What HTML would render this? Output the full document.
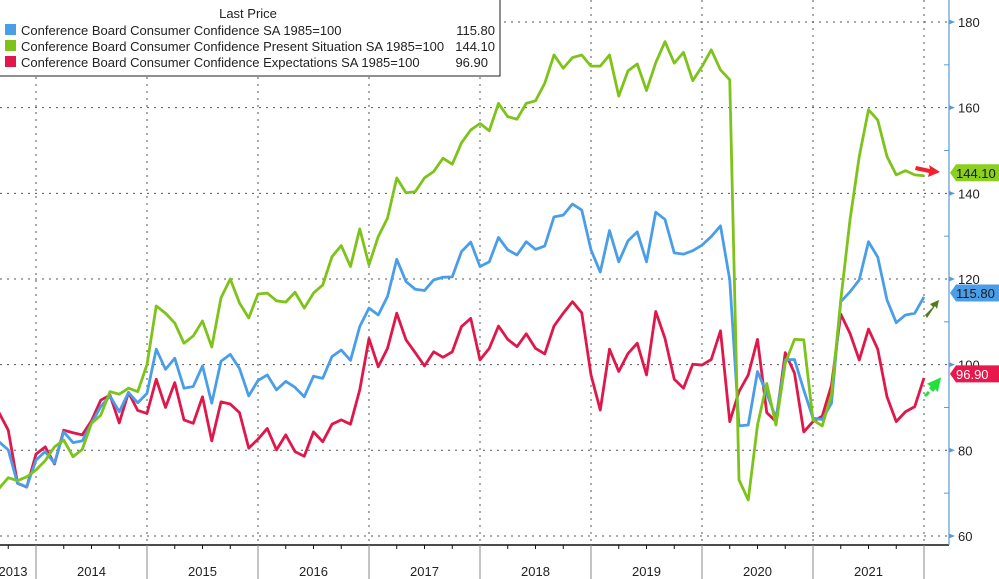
<!DOCTYPE html>
<html><head><meta charset="utf-8">
<style>
html,body{margin:0;padding:0;background:#fff;}
body{width:999px;height:579px;overflow:hidden;position:relative;font-family:"Liberation Sans",Tahoma,sans-serif;}
svg{position:absolute;left:0;top:0;}
</style></head>
<body>
<svg id="chart" width="999" height="579" xmlns="http://www.w3.org/2000/svg">
  <g id="grid"></g>
  <g id="series"></g>
  <g id="xaxis"></g>
  <g id="yaxis"></g>
  <g id="arrows">
    <path d="M916,166 L930,169 L929,165 L940,172 L928,177 L929,173 L915,170 Z" fill="#f2202a"/>
    <path d="M925,315 L933,307 L930,304 L939,300 L937,309 L935,306 L927,318 Z" fill="#4f7d1b"/>
    <path d="M925,396 L929,392 M930,389 L933,386 L930,384 L939,380 L937,389 L935,387 L932,391" stroke="#22e03a" stroke-width="3" fill="#22e03a"/>
  </g>
  <g id="tags"></g>
  <g id="legend">
    <rect x="-1" y="-1" width="501" height="77" fill="#fff" stroke="#222" stroke-width="1"/>
    <text x="248" y="18" font-size="13" text-anchor="middle" fill="#222">Last Price</text>
    <rect x="5" y="24" width="11" height="11" fill="#4a9ee8"/>
    <text x="21" y="35" font-size="13" fill="#222">Conference Board Consumer Confidence SA 1985=100</text>
    <text x="495" y="35" font-size="13" fill="#222" text-anchor="end">115.80</text>
    <rect x="5" y="40" width="11" height="11" fill="#7ec31a"/>
    <text x="21" y="51" font-size="13" fill="#222">Conference Board Consumer Confidence Present Situation SA 1985=100</text>
    <text x="495" y="51" font-size="13" fill="#222" text-anchor="end">144.10</text>
    <rect x="5" y="56" width="11" height="11" fill="#e0174a"/>
    <text x="21" y="67" font-size="13" fill="#222">Conference Board Consumer Confidence Expectations SA 1985=100</text>
    <text x="488" y="67" font-size="13" fill="#222" text-anchor="end">96.90</text>
  </g>
</svg>
<script>
// Monthly data Aug 2013 .. Dec 2021
const startMonthIndex = -5; // Aug 2013 relative to Jan 2014
const years = ["2013","2014","2015","2016","2017","2018","2019","2020","2021"];
const yTicks = [60,80,100,120,140,160,180];
const totalIndex = [82.0,80.1,72.3,71.5,77.7,
 79.7,77.0,84.3,81.8,82.2,86.3,90.2,92.7,89.0,93.5,91.1,93.3,
 103.6,98.9,101.5,94.5,94.9,99.7,91.0,100.8,102.4,99.1,92.7,96.3,
 97.6,94.1,96.1,94.7,92.5,97.3,96.8,101.9,103.4,101.0,108.9,113.2,
 111.6,115.9,124.6,119.4,117.6,117.3,119.8,120.4,120.5,126.4,128.6,122.9,
 124.0,129.7,126.8,125.6,128.7,126.9,127.7,134.5,134.9,137.5,136.1,126.8,
 121.6,131.3,124.0,128.9,131.0,124.0,135.6,133.9,126.1,125.8,126.6,127.9,
 129.9,132.4,119.8,85.7,85.9,98.4,93.3,87.5,101.1,101.2,94.1,87.5,
 87.2,91.0,114.7,117.0,119.8,128.7,125.1,115.1,109.8,111.6,112.0,115.8];
const presentSituation = [71.1,73.6,72.9,73.8,75.4,
 77.6,80.8,82.4,78.5,80.2,86.3,88.2,93.7,93.1,94.5,93.7,100.0,
 113.7,112.0,109.7,105.0,106.7,110.2,104.1,115.6,120.0,114.4,110.9,116.5,
 116.7,114.9,114.6,116.9,113.2,116.7,118.6,125.2,127.8,122.9,131.7,123.3,
 129.9,134.2,143.6,140.1,140.4,143.6,145.1,148.2,146.8,151.8,154.8,156.3,
 154.6,161.0,157.9,157.3,161.0,161.6,165.7,172.3,169.2,171.7,172.3,169.7,
 169.7,172.3,162.7,168.6,170.2,164.0,170.5,175.4,170.4,172.9,166.3,169.6,
 173.5,168.8,166.5,73.1,68.4,85.9,95.6,85.9,100.3,105.9,105.8,87.1,
 85.7,93.0,115.0,133.8,148.6,159.5,157.1,148.6,144.3,145.3,144.3,144.1];
const expectations = [88.8,84.7,72.3,71.4,79.1,
 80.8,76.8,84.7,84.1,83.6,86.9,91.7,92.9,86.4,93.5,89.3,88.6,
 96.6,90.0,95.8,87.1,86.3,92.5,82.2,91.3,90.8,88.8,80.5,82.6,
 85.1,80.1,83.6,79.7,78.6,84.3,82.0,86.1,87.1,86.1,94.1,106.1,
 99.5,103.8,112.0,105.8,102.8,99.7,103.0,101.7,103.0,108.9,110.8,101.1,
 103.8,109.0,105.9,104.2,107.2,103.8,102.5,109.0,112.0,114.7,112.1,97.6,
 89.4,103.6,98.4,102.6,105.0,97.6,112.4,106.1,96.6,94.5,100.1,99.9,
 101.2,107.9,86.7,93.7,97.6,105.9,88.8,86.7,102.8,98.0,84.3,86.7,
 88.0,95.2,111.8,107.3,101.1,108.3,103.6,92.5,86.7,89.0,90.2,96.9];
const lastValues = ["144.10","115.80","96.90"];

const NS="http://www.w3.org/2000/svg";
const X0=36, MONTH=111/12, YTOP=22, PX=4.283, XR=949, YB=545;
function xOfMonth(m){return X0+(m+1)*MONTH;}
function xOfYearStart(yIdx){return X0+(yIdx-1)*111;}
function yOf(v){return YTOP+(180-v)*PX;}
function mk(tag,attrs,parent){const e=document.createElementNS(NS,tag);for(const k in attrs)e.setAttribute(k,attrs[k]);parent.appendChild(e);return e;}

const grid=document.getElementById('grid');
yTicks.forEach(t=>{
  const l=mk('line',{x1:0,x2:XR,y1:yOf(t),y2:yOf(t),stroke:'#555','stroke-width':1,'stroke-dasharray':'2,5'},grid);
  
  
});
for(let i=1;i<=years.length;i++){
  const x=xOfYearStart(i);
  const l=mk('line',{x1:x,x2:x,y1:0,y2:YB,stroke:'#555','stroke-width':1,'stroke-dasharray':'2,5'},grid);
  
  
}

const ser=document.getElementById('series');
function drawLine(data,color,name){
  const pts=data.map((v,i)=>xOfMonth(startMonthIndex+i).toFixed(2)+','+yOf(v).toFixed(2)).join(' ');
  const p=mk('polyline',{points:pts,fill:'none',stroke:color,'stroke-width':2.8,'stroke-linejoin':'round'},ser);
  
  
}
drawLine(expectations,'#e0174a','expectations-line');
drawLine(totalIndex,'#4a9ee8','total-index-line');
drawLine(presentSituation,'#7ec31a','present-situation-line');

const xa=document.getElementById('xaxis');
mk('line',{x1:0,x2:XR,y1:YB,y2:YB,stroke:'#111','stroke-width':1.5},xa);
for(let i=0;i<=years.length;i++){
  const x=xOfYearStart(i);
  if(x>0){const l=mk('line',{x1:x,x2:x,y1:YB,y2:579,stroke:'#888','stroke-width':1},xa);
  
  }
  for(let q=1;q<4;q++){const qx=x+q*111/4; if(qx>0&&qx<XR) mk('line',{x1:qx,x2:qx,y1:YB,y2:YB+4,stroke:'#111','stroke-width':1},xa);}
}
years.forEach((yr,i)=>{
  let cx=xOfYearStart(i)+55.5; if(cx<13)cx=13;
  const t=mk('text',{x:cx,y:576,'font-size':13,'text-anchor':'middle',fill:'#222'},xa);
  t.textContent=yr;
  
  
});

const ya=document.getElementById('yaxis');
mk('line',{x1:XR,x2:XR,y1:0,y2:YB,stroke:'#5a9bd5','stroke-width':1.2},ya);
yTicks.forEach(t=>{
  const y=yOf(t);
  mk('path',{d:`M${XR},${y-2.5} L${XR+6},${y} L${XR},${y+2.5} Z`,fill:'#5a9bd5'},ya);
  const tx=mk('text',{x:958,y:y+5,'font-size':13,fill:'#222'},ya);
  tx.textContent=String(t);
  
  
  if(t<180){const m=yOf(t+10);mk('line',{x1:XR-5,x2:XR,y1:m,y2:m,stroke:'#5a9bd5','stroke-width':1},ya);}
});

const tg=document.getElementById('tags');
const tagColors=['#8ccf1e','#4a9ee8','#e8174c'];
const tagText=['#1a1a1a','#1a1a1a','#ffffff'];
const tagY=[presentSituation[presentSituation.length-1],totalIndex[totalIndex.length-1],expectations[expectations.length-1]];
const tagOffset=[-3,-4,-4];
tagY.forEach((v,i)=>{
  const y=yOf(v)+tagOffset[i];
  const p=mk('path',{d:`M${XR+1},${y} L${XR+7},${y-8.5} L999,${y-8.5} L999,${y+8.5} L${XR+7},${y+8.5} Z`,fill:tagColors[i]},tg);
  
  
  const t=mk('text',{x:956,y:y+5,'font-size':13,fill:tagText[i]},tg);
  t.textContent=lastValues[i];
  
  
});
</script>
</body></html>
